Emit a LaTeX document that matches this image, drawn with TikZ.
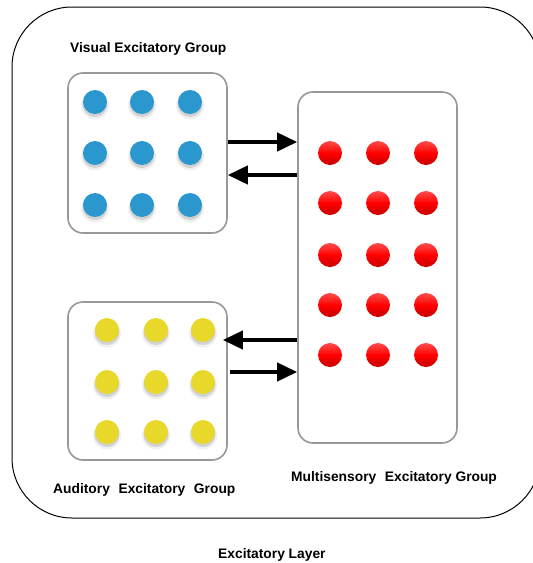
\documentclass[tikz,border=0pt]{standalone}
\usepackage{fontspec}
\setmainfont{Liberation Sans}
\usetikzlibrary{arrows.meta,calc}
\definecolor{visblue}{RGB}{42,152,206}
\definecolor{audyellow}{RGB}{232,216,42}
\definecolor{boxgray}{RGB}{150,152,156}
\tikzset{
  group/.style={draw=boxgray, line width=1.6pt, rounded corners=15pt, fill=white},
  label/.style={font=\bfseries\fontsize{13.8}{16}\selectfont, anchor=west, inner sep=0pt},
  link/.style={line width=4pt, -{Triangle[length=20pt,width=18pt]}},
}
% a neuron's soft shadow, drawn below the coloured disc
\newcommand{\cellshadow}[1]{%
  \fill[black, opacity=0.06] ($(#1)+(0,3.5)$) circle (14);
  \fill[black, opacity=0.12] ($(#1)+(0,2.5)$) circle (12.5);
}
\begin{document}
\begin{tikzpicture}[x=1pt, y=-1pt]
  \useasboundingbox (0,0) rectangle (533,563);
  \clip (0,0) rectangle (533,563);

  % excitatory layer outline
  \draw[line width=1pt, rounded corners=60pt] (12,7) rectangle (540,518);

  % groups
  \node[group, minimum width=159pt, minimum height=160pt, inner sep=0pt] (vis) at (147.5,153) {};
  \node[group, minimum width=159pt, minimum height=158pt, inner sep=0pt] (aud) at (147.5,381) {};
  \node[group, minimum width=159pt, minimum height=351pt, inner sep=0pt] (multi) at (377.5,267.5) {};

  % visual neurons
  \foreach \x [count=\i] in {95,142,190}
    \foreach \y [count=\j] in {102,153,205} {
      \coordinate (v\i\j) at (\x,\y);
      \cellshadow{v\i\j}
      \fill[visblue] (v\i\j) circle (12);
    }

  % auditory neurons
  \foreach \x [count=\i] in {107,156,203}
    \foreach \y [count=\j] in {330,382,432} {
      \coordinate (a\i\j) at (\x,\y);
      \cellshadow{a\i\j}
      \fill[audyellow] (a\i\j) circle (12);
    }

  % multisensory neurons
  \foreach \x [count=\i] in {330,378,426}
    \foreach \y [count=\j] in {153,203,255,305,355} {
      \coordinate (m\i\j) at (\x,\y);
      \shade[top color=red!70!white, bottom color=red!78!black, middle color=red]
        (m\i\j) circle (12);
    }

  % connections between groups
  \draw[link] (vis.east |- 0,142) -- (multi.west |- 0,142);
  \draw[link] (multi.west |- 0,175) -- (vis.east |- 0,175);
  \draw[link] (multi.west |- 0,340) -- ([xshift=-5pt]aud.east |- 0,340);
  \draw[link] ([xshift=2pt]aud.east |- 0,372) -- (multi.west |- 0,372);

  % labels
  \node[label] (lvis) at (70,48.5) {Visual Excitatory Group};
  \node[label] (laud) at (53,489.5) {Auditory\hspace{0.35em} Excitatory\hspace{0.35em} Group};
  \node[label] (lmulti) at (291,477.5) {Multisensory\hspace{0.35em} Excitatory Group};
  \node[label] (llayer) at (218,554.5) {Excitatory Layer};
\end{tikzpicture}
\end{document}
